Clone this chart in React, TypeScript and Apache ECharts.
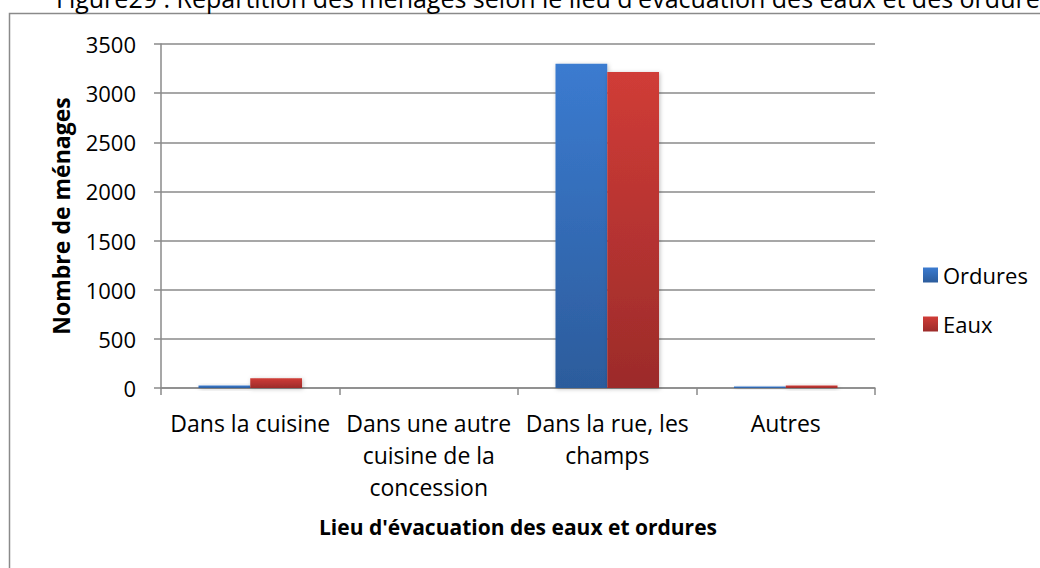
import React, { useEffect, useRef } from "react";
import * as echarts from "echarts";

const categories = [
  "Dans la cuisine",
  "Dans une autre\ncuisine de la\nconcession",
  "Dans la rue, les\nchamps",
  "Autres",
];
const ordures = [25, 0, 3300, 15];
const eaux = [100, 0, 3215, 25];
const yTicks = { min: 0, max: 3500, interval: 500 };

const FONT = "'Open Sans', 'Noto Sans', sans-serif";

export default function App() {
  const ref = useRef<HTMLDivElement>(null);
  useEffect(() => {
    document.body.style.margin = "0";
    const chart = echarts.init(ref.current!, null, { renderer: "svg" });
    const blue = new echarts.graphic.LinearGradient(0, 0, 0, 1, [
      { offset: 0, color: "#3b7bd0" },
      { offset: 1, color: "#2c5c9c" },
    ]);
    const red = new echarts.graphic.LinearGradient(0, 0, 0, 1, [
      { offset: 0, color: "#d03c37" },
      { offset: 1, color: "#9c2b2a" },
    ]);
    chart.setOption({
      animation: false,
      backgroundColor: "#ffffff",
      textStyle: { fontFamily: FONT },
      graphic: [
        {
          type: "rect",
          shape: { x: 9.5, y: 13.5, width: 1100, height: 700 },
          style: { fill: "none", stroke: "#8a8a8a", lineWidth: 1.5 },
          z: -10,
        },
        {
          type: "text",
          left: 56,
          top: -15,
          style: {
            text: "Figure29 : Répartition des ménages selon le lieu d'évacuation des eaux et des ordures",
            fontFamily: FONT,
            fontSize: 25,
            fill: "#000",
          },
        },
      ],
      legend: {
        orient: "vertical",
        left: 918,
        top: 259,
        itemWidth: 15,
        itemHeight: 15,
        itemGap: 27,
        icon: "rect",
        textStyle: { fontSize: 22, color: "#000", fontFamily: FONT },
        data: ["Ordures", "Eaux"],
      },
      grid: { left: 161, right: 165, top: 44, bottom: 180, containLabel: false },
      xAxis: {
        type: "category",
        data: categories,
        name: "Lieu d'évacuation des eaux et ordures",
        nameLocation: "middle",
        nameGap: 128,
        nameTextStyle: { fontSize: 21, fontWeight: "bold", color: "#000", fontFamily: FONT },
        axisLine: { lineStyle: { color: "#8a8a8a", width: 1.5 } },
        axisTick: { show: true, length: 7, alignWithLabel: false, lineStyle: { color: "#8a8a8a", width: 1.5 } },
        axisLabel: {
          interval: 0,
          margin: 19,
          fontSize: 23,
          lineHeight: 32,
          color: "#000",
          fontFamily: FONT,
        },
      },
      yAxis: {
        type: "value",
        min: yTicks.min,
        max: yTicks.max,
        interval: yTicks.interval,
        name: "Nombre de ménages",
        nameLocation: "middle",
        nameGap: 89,
        nameRotate: 90,
        nameTextStyle: { fontSize: 23, fontWeight: "bold", color: "#000", fontFamily: FONT },
        axisLine: { show: true, lineStyle: { color: "#8a8a8a", width: 1.5 } },
        axisTick: { show: true, length: 7, lineStyle: { color: "#8a8a8a", width: 1.5 } },
        axisLabel: {
          margin: 25,
          fontSize: 22,
          color: "#000",
          fontFamily: FONT,
          formatter: (v: number) => String(v),
        },
        splitLine: { show: true, lineStyle: { color: "#8a8a8a", width: 1.5 } },
      },
      series: [
        {
          name: "Ordures",
          type: "bar",
          data: ordures,
          barGap: "0%",
          barCategoryGap: "42%",
          itemStyle: {
            color: blue,
            shadowColor: "rgba(0,0,0,0.25)",
            shadowBlur: 4,
            shadowOffsetX: 1,
            shadowOffsetY: 1,
          },
        },
        {
          name: "Eaux",
          type: "bar",
          data: eaux,
          barGap: "0%",
          barCategoryGap: "42%",
          itemStyle: {
            color: red,
            shadowColor: "rgba(0,0,0,0.25)",
            shadowBlur: 4,
            shadowOffsetX: 1,
            shadowOffsetY: 1,
          },
        },
      ],
    });
    return () => chart.dispose();
  }, []);
  return <div ref={ref} style={{ width: 1040, height: 568 }} />;
}
